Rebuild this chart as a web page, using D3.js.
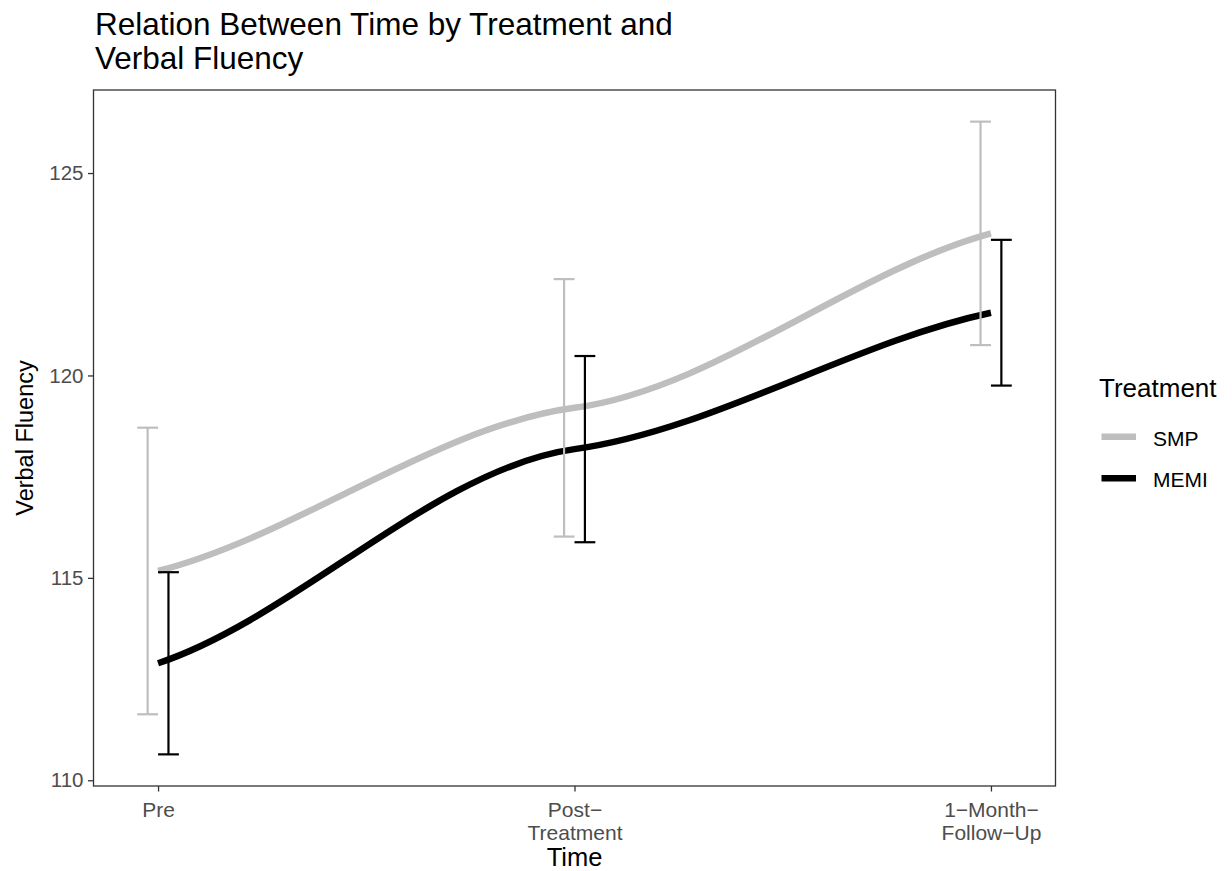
<!DOCTYPE html>
<html>
<head>
<meta charset="utf-8">
<script src="https://cdn.jsdelivr.net/npm/d3@7"></script>
<style>
  body { margin: 0; background: #fff; }
  text { font-family: "Liberation Sans", Arial, Helvetica, sans-serif; }
</style>
</head>
<body>
<svg id="chart" width="1232" height="871"></svg>
<script>
// values
const timeLabels = [["Pre"], ["Post\u2212", "Treatment"], ["1\u2212Month\u2212", "Follow\u2212Up"]];
const timeIndex = [1, 2, 3];
const groups = ["SMP", "MEMI"];
const groupColors = ["#bebebe", "#000000"];
const smpMean = [115.17, 119.20, 123.51];
const smpHalf = [3.54, 3.18, 2.76];
const memiMean = [112.89, 118.18, 121.55];
const memiHalf = [2.25, 2.30, 1.80];
const yTicks = [110, 115, 120, 125];

const dodge = 0.025, capW = 0.05;

const svg = d3.select("#chart");
const panel = { left: 93.5, right: 1055.5, top: 90, bottom: 786 };

// build rows
let rows = [];
const means = [smpMean, memiMean], halves = [smpHalf, memiHalf];
groups.forEach((g, gi) => {
  timeIndex.forEach((t, ti) => {
    rows.push({ group: g, gi: gi, t: t, mean: means[gi][ti], lo: means[gi][ti] - halves[gi][ti], hi: means[gi][ti] + halves[gi][ti],
                xd: t + (gi === 0 ? -dodge : dodge) });
  });
});

// ggplot-like expansion (5%)
let xmin = d3.min(rows, d => d.xd - capW / 2), xmax = d3.max(rows, d => d.xd + capW / 2);
let ymin = d3.min(rows, d => d.lo), ymax = d3.max(rows, d => d.hi);
let xe = (xmax - xmin) * 0.05, ye = (ymax - ymin) * 0.05;

const x = d3.scaleLinear().domain([xmin - xe, xmax + xe]).range([panel.left, panel.right]);
const y = d3.scaleLinear().domain([ymin - ye, ymax + ye]).range([panel.bottom, panel.top]);

// custom curve: cubic hermite with damped slopes at interior knots
function softCurve(a, b) {
  return function(context) {
    let pts = [];
    return {
      areaStart() {}, areaEnd() {},
      lineStart() { pts = []; },
      point(px, py) { pts.push([+px, +py]); },
      lineEnd() {
        const n = pts.length;
        if (!n) return;
        let chord = [];
        for (let i = 0; i < n - 1; i++) chord.push((pts[i+1][1] - pts[i][1]) / (pts[i+1][0] - pts[i][0]));
        let s = pts.map((p, i) => {
          if (i === 0) return b * chord[0];
          if (i === n - 1) return b * chord[n - 2];
          return a * (chord[i-1] + chord[i]) / 2;
        });
        context.moveTo(pts[0][0], pts[0][1]);
        for (let i = 0; i < n - 1; i++) {
          const dx = (pts[i+1][0] - pts[i][0]) / 3;
          context.bezierCurveTo(pts[i][0] + dx, pts[i][1] + s[i] * dx,
                                pts[i+1][0] - dx, pts[i+1][1] - s[i+1] * dx,
                                pts[i+1][0], pts[i+1][1]);
        }
      }
    };
  };
}

const line = d3.line().x(d => x(d.t)).y(d => y(d.mean)).curve(softCurve(0.33, 0.65));

// lines
const plot = svg.append("g");
groups.forEach((g, gi) => {
  plot.append("path")
    .datum(rows.filter(r => r.gi === gi))
    .attr("fill", "none")
    .attr("stroke", groupColors[gi])
    .attr("stroke-width", 6.5)
    .attr("d", line);
});

// error bars
const eb = plot.selectAll("g.eb").data(rows).join("g").attr("class", "eb")
  .attr("stroke", d => groupColors[d.gi]).attr("stroke-width", 2.2).attr("fill", "none");
eb.append("line").attr("x1", d => x(d.xd)).attr("x2", d => x(d.xd)).attr("y1", d => y(d.lo)).attr("y2", d => y(d.hi));
eb.append("line").attr("x1", d => x(d.xd - capW / 2)).attr("x2", d => x(d.xd + capW / 2)).attr("y1", d => y(d.lo)).attr("y2", d => y(d.lo));
eb.append("line").attr("x1", d => x(d.xd - capW / 2)).attr("x2", d => x(d.xd + capW / 2)).attr("y1", d => y(d.hi)).attr("y2", d => y(d.hi));

// panel border
svg.append("rect")
  .attr("x", panel.left).attr("y", panel.top)
  .attr("width", panel.right - panel.left).attr("height", panel.bottom - panel.top)
  .attr("fill", "none").attr("stroke", "#333333").attr("stroke-width", 1.3);

// y axis
const yAxis = svg.append("g").attr("transform", `translate(${panel.left},0)`)
  .call(d3.axisLeft(y).tickValues(yTicks).tickSize(5.5).tickPadding(4.5));
yAxis.select(".domain").remove();
yAxis.selectAll(".tick line").attr("stroke", "#333333").attr("stroke-width", 1.3);
yAxis.selectAll(".tick text").attr("fill", "#4d4d4d").style("font-size", "20.5px")
  .style("font-family", "Liberation Sans, Arial, sans-serif");

// x axis
const xAxis = svg.append("g").attr("transform", `translate(0,${panel.bottom})`)
  .call(d3.axisBottom(x).tickValues(timeIndex).tickSize(5.5).tickFormat(""));
xAxis.select(".domain").remove();
xAxis.selectAll(".tick line").attr("stroke", "#333333").attr("stroke-width", 1.3);
xAxis.selectAll(".tick").each(function(d, i) {
  const t = d3.select(this).append("text")
    .attr("fill", "#4d4d4d").attr("text-anchor", "middle")
    .style("font-size", "21px");
  timeLabels[i].forEach((s, k) => {
    t.append("tspan").attr("x", 0).attr("y", 31 + k * 22.5).text(s);
  });
});

// axis titles
svg.append("text").attr("x", (panel.left + panel.right) / 2).attr("y", 866)
  .attr("text-anchor", "middle").style("font-size", "25.5px").text("Time");
svg.append("text").attr("transform", `translate(33,${(panel.top + panel.bottom) / 2}) rotate(-90)`)
  .attr("text-anchor", "middle").style("font-size", "23.5px").text("Verbal Fluency");

// title
const title = svg.append("text").attr("x", 95).style("font-size", "31.5px");
title.append("tspan").attr("x", 95).attr("y", 35).text("Relation Between Time by Treatment and");
title.append("tspan").attr("x", 95).attr("y", 69).text("Verbal Fluency");

// legend
const leg = svg.append("g").attr("transform", "translate(1098,0)");
leg.append("text").attr("x", 1).attr("y", 397).style("font-size", "26px").text("Treatment");
const keys = leg.selectAll("g.key").data(groups).join("g").attr("class", "key")
  .attr("transform", (d, i) => `translate(0,${436.7 + i * 41.6})`);
keys.append("line").attr("x1", 3.5).attr("x2", 38).attr("y1", 0).attr("y2", 0)
  .attr("stroke", (d, i) => groupColors[i]).attr("stroke-width", 6.5);
keys.append("text").attr("x", 55).attr("y", 9).style("font-size", "21px").text(d => d);
</script>
</body>
</html>
